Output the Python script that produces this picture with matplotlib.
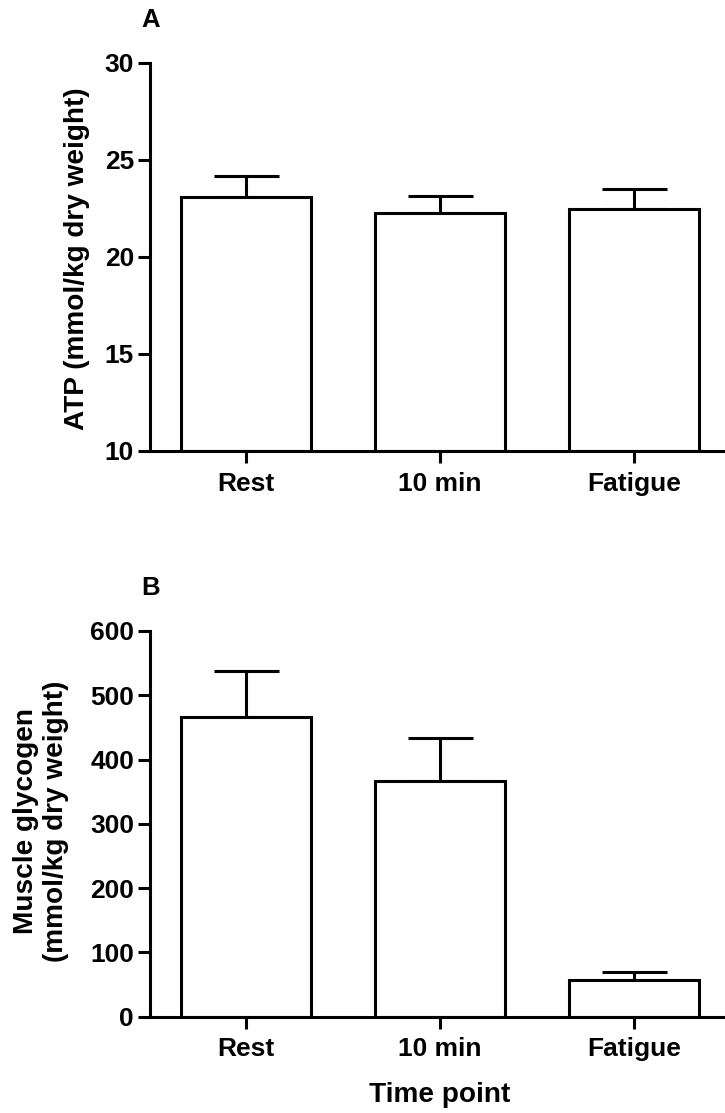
import numpy as np
import matplotlib
matplotlib.use('Agg')
import matplotlib.pyplot as plt

plt.rcParams['font.family'] = ['Liberation Sans', 'DejaVu Sans']
plt.rcParams['font.weight'] = 'bold'

# data
time_points = ['Rest', '10 min', 'Fatigue']
atp_mean = [23.08, 22.26, 22.45]
atp_sem = [1.09, 0.89, 1.03]
glycogen_mean = [466.6, 367.0, 56.8]
glycogen_sem = [71.1, 66.0, 12.5]

atp_ticks = [10, 15, 20, 25, 30]
glycogen_ticks = [0, 100, 200, 300, 400, 500, 600]

LW = 2.2
TICK_FS = 19
LABEL_FS = 20.2

fig = plt.figure(figsize=(7.25, 11.13), dpi=100)
ax_a = fig.add_axes([150 / 725, 1 - 450.7 / 1113, 580 / 725, 388.0 / 1113])
ax_b = fig.add_axes([150 / 725, 1 - 1016.5 / 1113, 580 / 725, 385.5 / 1113])


def draw_panel(ax, means, sems, ylim, ticks):
    x = np.arange(len(time_points))
    ax.bar(x, np.array(means) - ylim[0], width=0.67, bottom=ylim[0],
           color='white', edgecolor='black', linewidth=LW, zorder=2)
    ax.errorbar(x, means, yerr=[np.zeros(len(sems)), sems], fmt='none',
                ecolor='black', elinewidth=LW, capsize=23.4, capthick=LW, zorder=1)
    ax.set_xlim(-0.495, 2.495)
    ax.set_ylim(*ylim)
    ax.set_yticks(ticks)
    ax.set_xticks(x)
    ax.set_xticklabels(time_points)
    for s in ['top', 'right']:
        ax.spines[s].set_visible(False)
    for s in ['left', 'bottom']:
        ax.spines[s].set_linewidth(LW)
    ax.tick_params(axis='both', direction='out', length=8.5, width=LW,
                   labelsize=TICK_FS)
    ax.tick_params(axis='y', pad=3)
    ax.tick_params(axis='x', pad=6.5)
    for lbl in ax.get_xticklabels() + ax.get_yticklabels():
        lbl.set_fontweight('bold')


draw_panel(ax_a, atp_mean, atp_sem, (10, 30), atp_ticks)
draw_panel(ax_b, glycogen_mean, glycogen_sem, (0, 600), glycogen_ticks)

fig.text(77 / 725, 1 - 259 / 1113, 'ATP (mmol/kg dry weight)', rotation=90,
         ha='center', va='center', fontsize=LABEL_FS, fontweight='bold')
fig.text(26 / 725, 1 - 821 / 1113, 'Muscle glycogen', rotation=90,
         ha='center', va='center', fontsize=LABEL_FS, fontweight='bold')
fig.text(56 / 725, 1 - 821 / 1113, '(mmol/kg dry weight)', rotation=90,
         ha='center', va='center', fontsize=LABEL_FS, fontweight='bold')
fig.text(440 / 725, 1 - 1095 / 1113, 'Time point', ha='center', va='center',
         fontsize=LABEL_FS, fontweight='bold')

fig.text(151 / 725, 1 - 20 / 1113, 'A', ha='center', va='center',
         fontsize=18.5, fontweight='bold')
fig.text(151 / 725, 1 - 588 / 1113, 'B', ha='center', va='center',
         fontsize=18.5, fontweight='bold')

fig.savefig('out.png', dpi=100, facecolor='white')
